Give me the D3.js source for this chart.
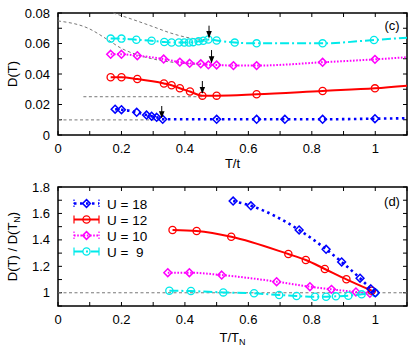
<!DOCTYPE html>
<html><head><meta charset="utf-8">
<script src="https://cdn.jsdelivr.net/npm/d3@7"></script>
<style>
body{margin:0;background:#fff;}
svg{display:block;font-family:"Liberation Sans",Arial,Helvetica,sans-serif;}
</style></head>
<body><svg id="c" width="415" height="348"></svg>
<script>
// ---------- Data: panel (c) D(T) vs T/t ----------
const u9T  = [0.166,0.200,0.247,0.295,0.335,0.358,0.381,0.398,0.413,0.426,0.443,0.458,0.474,0.500,0.557,0.626,0.834,0.996];
const u9D  = [0.0632,0.0632,0.0625,0.0618,0.0610,0.0607,0.0607,0.0607,0.0607,0.0609,0.0614,0.0618,0.0626,0.0620,0.0606,0.0601,0.0601,0.0623];
const u10T = [0.166,0.200,0.250,0.333,0.384,0.415,0.450,0.474,0.500,0.553,0.626,0.834,0.999];
const u10D = [0.0529,0.0529,0.0520,0.0498,0.0478,0.0470,0.0467,0.0460,0.0459,0.0455,0.0455,0.0477,0.0496];
const u12T = [0.166,0.200,0.250,0.334,0.358,0.384,0.416,0.455,0.500,0.626,0.834,0.999];
const u12D = [0.0379,0.0379,0.0367,0.0338,0.0326,0.0307,0.0285,0.0258,0.0258,0.0267,0.0289,0.0306];
const u18T = [0.180,0.200,0.248,0.279,0.295,0.311,0.330,0.500,0.626,0.715,0.834,0.999];
const u18D = [0.0169,0.0166,0.0149,0.0131,0.0123,0.0116,0.0103,0.0103,0.0103,0.0103,0.0103,0.0107];
// fitted line values at right edge (T/t = 1.1)
const edgeT = 1.1;
const edgeD = {u9:0.0638, u10:0.0510, u12:0.0323, u18:0.0110};
// gray guide curves
const guideAT = [0,0.095,0.158,0.200,0.253,0.305,0.394,0.470];
const guideAD = [0.0748,0.0700,0.0623,0.0568,0.0524,0.0496,0.0470,0.0462];
const guideBT = [0.174,0.253,0.300,0.353,0.416,0.470];
const guideBD = [0.0800,0.0745,0.0710,0.0670,0.0636,0.0625];
const hline1 = {t0:0.08, t1:0.455, d:0.0251};
const hline2 = {t0:0.0, t1:0.330, d:0.0099};
// arrows marking T_N
const arrowT    = [0.476,0.484,0.455,0.327];
const arrowFrom = [0.0717,0.0557,0.0354,0.0190];
const arrowTo   = [0.0640,0.0475,0.0275,0.0115];

// ---------- Data: panel (d) D(T)/D(T_N) vs T/T_N ----------
const n18T = [0.552,0.608,0.760,0.845,0.894,0.952,0.986,1.0];
const n18R = [1.694,1.658,1.475,1.329,1.233,1.110,1.030,1.0];
const n12T = [0.361,0.437,0.546,0.726,0.781,0.841,0.909,0.989];
const n12R = [1.475,1.467,1.424,1.293,1.248,1.180,1.102,1.016];
const n10T = [0.346,0.414,0.516,0.689,0.794,0.862,0.939,0.983];
const n10R = [1.152,1.152,1.134,1.084,1.046,1.026,1.006,0.996];
const n9T  = [0.351,0.419,0.521,0.618,0.697,0.752,0.810,0.845,0.876,0.915,0.957,0.999];
const n9R  = [1.016,1.013,1.003,0.996,0.983,0.976,0.970,0.970,0.973,0.978,0.988,1.0];

const legendLabels = ["U = 18","U = 12","U = 10","U =  9"];
const xTicksLabeled = [0,0.2,0.4,0.6,0.8,1];
const xTickLabels = ["0","0.2","0.4","0.6","0.8","1"];
const yTopTicks = [0,0.02,0.04,0.06,0.08];
const yTopLabels = ["0","0.02","0.04","0.06","0.08"];
const yBotTicks = [1,1.2,1.4,1.6,1.8];
const yBotLabels = ["1","1.2","1.4","1.6","1.8"];

// ---------- Styles ----------
const COL = {u18:"#0000ff", u12:"#ff0000", u10:"#ff00ff", u9:"#00eaea"};
const DASH = {u18:"2.5,3.5", u12:null, u10:"1.6,1.6", u9:"9,3,2,3"};

const svg = d3.select("#c");
const L=58, R=407;
const top1=13, bot1=135, top2=187, bot2=306;
const x = d3.scaleLinear().domain([0,1.1]).range([L,R]);
const y1 = d3.scaleLinear().domain([0,0.08]).range([bot1,top1]);
const y2 = d3.scaleLinear().domain([0.9,1.8]).range([bot2,top2]);

svg.append("defs").append("marker").attr("id","ah").attr("viewBox","0 0 10 10")
  .attr("refX",9).attr("refY",5).attr("markerWidth",7).attr("markerHeight",7)
  .attr("markerUnits","userSpaceOnUse").attr("orient","auto")
  .append("path").attr("d","M0,1 L10,5 L0,9 z").attr("fill","#000");

function frame(yScale, top, bot, yMinor, yLabTicks, yLabs){
  const g = svg.append("g");
  const xt = d3.range(0,1.1001,0.1);
  xt.forEach(v=>{
    const px = x(v);
    g.append("line").attr("x1",px).attr("x2",px).attr("y1",bot).attr("y2",bot-4).attr("stroke","#000").attr("stroke-width",1);
    g.append("line").attr("x1",px).attr("x2",px).attr("y1",top).attr("y2",top+4).attr("stroke","#000").attr("stroke-width",1);
  });
  yMinor.forEach(v=>{
    const py = yScale(v);
    g.append("line").attr("x1",L).attr("x2",L+4).attr("y1",py).attr("y2",py).attr("stroke","#000").attr("stroke-width",1);
    g.append("line").attr("x1",R).attr("x2",R-4).attr("y1",py).attr("y2",py).attr("stroke","#000").attr("stroke-width",1);
  });
  xTicksLabeled.forEach((v,i)=>{
    g.append("text").attr("x",x(v)).attr("y",bot+18).attr("text-anchor","middle")
      .attr("font-size",13).text(xTickLabels[i]);
  });
  yLabTicks.forEach((v,i)=>{
    g.append("text").attr("x",L-8).attr("y",yScale(v)+4.5).attr("text-anchor","end")
      .attr("font-size",13).text(yLabs[i]);
  });
  g.append("rect").attr("x",L).attr("y",top).attr("width",R-L).attr("height",bot-top)
    .attr("fill","none").attr("stroke","#000").attr("stroke-width",1.5);
}

function series(yScale, ts, vs, key, sym, extra){
  const pts = ts.map((t,i)=>[t,vs[i]]);
  const linePts = extra ? pts.concat([extra]) : pts;
  const line = d3.line().x(d=>x(d[0])).y(d=>yScale(d[1])).curve(d3.curveMonotoneX);
  svg.append("path").attr("d",line(linePts)).attr("fill","none").attr("stroke",COL[key])
    .attr("stroke-width",key==="u18"?2.6:2).attr("stroke-dasharray",DASH[key]);
  drawSymbols(pts.map(d=>[x(d[0]),yScale(d[1])]), key, sym);
}
function drawSymbols(pxs, key, sym){
  pxs.forEach(p=>{
    if(sym==="circle"){
      svg.append("circle").attr("cx",p[0]).attr("cy",p[1]).attr("r",3.6)
        .attr("fill","none").attr("stroke",COL[key]).attr("stroke-width",1.3);
    } else {
      const s=3.9;
      svg.append("path").attr("d",`M${p[0]},${p[1]-s}L${p[0]+s},${p[1]}L${p[0]},${p[1]+s}L${p[0]-s},${p[1]}Z`)
        .attr("fill","none").attr("stroke",COL[key]).attr("stroke-width",1.5);
    }
  });
}

// ---------- Panel (c) ----------
frame(y1, top1, bot1, d3.range(0,0.0801,0.01), yTopTicks, yTopLabels);
const gl = d3.line().x(d=>x(d[0])).y(d=>y1(d[1])).curve(d3.curveMonotoneX);
const guideStyle = p=>p.attr("fill","none").attr("stroke","#777").attr("stroke-width",1).attr("stroke-dasharray","3,2.5");
guideStyle(svg.append("path").attr("d",gl(guideAT.map((t,i)=>[t,guideAD[i]]))));
guideStyle(svg.append("path").attr("d",gl(guideBT.map((t,i)=>[t,guideBD[i]]))));
[hline1,hline2].forEach(h=>guideStyle(svg.append("line").attr("x1",x(h.t0)).attr("x2",x(h.t1)).attr("y1",y1(h.d)).attr("y2",y1(h.d))));

series(y1,u9T,u9D,"u9","circle",[edgeT,edgeD.u9]);
series(y1,u10T,u10D,"u10","diamond",[edgeT,edgeD.u10]);
series(y1,u12T,u12D,"u12","circle",[edgeT,edgeD.u12]);
series(y1,u18T,u18D,"u18","diamond",[edgeT,edgeD.u18]);

arrowT.forEach((t,i)=>{
  svg.append("line").attr("x1",x(t)).attr("x2",x(t)).attr("y1",y1(arrowFrom[i])).attr("y2",y1(arrowTo[i]))
    .attr("stroke","#000").attr("stroke-width",1).attr("marker-end","url(#ah)");
});

svg.append("text").attr("x",392).attr("y",30).attr("text-anchor","middle").attr("font-size",13).text("(c)");
svg.append("text").attr("transform",`translate(17,${(top1+bot1)/2}) rotate(-90)`).attr("text-anchor","middle")
  .attr("font-size",13).text("D(T)");
svg.append("text").attr("x",(L+R)/2).attr("y",168).attr("text-anchor","middle").attr("font-size",13).text("T/t");

// ---------- Panel (d) ----------
frame(y2, top2, bot2, d3.range(0.9,1.8001,0.1), yBotTicks, yBotLabels);
guideStyle(svg.append("line").attr("x1",x(0)).attr("x2",x(1.1)).attr("y1",y2(1)).attr("y2",y2(1)));
series(y2,n10T,n10R,"u10","diamond");
series(y2,n9T,n9R,"u9","circle");
series(y2,n12T,n12R,"u12","circle");
series(y2,n18T,n18R,"u18","diamond");

svg.append("text").attr("x",392).attr("y",206).attr("text-anchor","middle").attr("font-size",13).text("(d)");
const yl = svg.append("text").attr("transform",`translate(17,${(top2+bot2)/2}) rotate(-90)`).attr("text-anchor","middle").attr("font-size",13);
yl.append("tspan").text("D(T) / D(T");
yl.append("tspan").attr("font-size",9).attr("dy",3).text("N");
yl.append("tspan").attr("dy",-3).text(")");
const xl = svg.append("text").attr("x",(L+R)/2).attr("y",342).attr("text-anchor","middle").attr("font-size",13);
xl.append("tspan").text("T/T");
xl.append("tspan").attr("font-size",9).attr("dy",3).text("N");

// legend
const legKeys = ["u18","u12","u10","u9"];
const legSym = ["diamond","circle","diamond","circle"];
const legY = [203.5,219.5,235.5,251.5];
legKeys.forEach((k,i)=>{
  const yy = legY[i];
  svg.append("line").attr("x1",74).attr("x2",99).attr("y1",yy).attr("y2",yy)
    .attr("stroke",COL[k]).attr("stroke-width",k==="u18"?2.6:2).attr("stroke-dasharray",DASH[k]);
  [74,99].forEach(xx=>svg.append("line").attr("x1",xx).attr("x2",xx).attr("y1",yy-4).attr("y2",yy+4)
    .attr("stroke",COL[k]).attr("stroke-width",1.2).attr("stroke-dasharray",k==="u12"||k==="u9"?null:"1.5,1.5"));
  drawSymbols([[86.5,yy]],k,legSym[i]);
  svg.append("text").attr("x",107).attr("y",yy+5).attr("font-size",13.5).style("white-space","pre").text(legendLabels[i]);
});
</script></body></html>
